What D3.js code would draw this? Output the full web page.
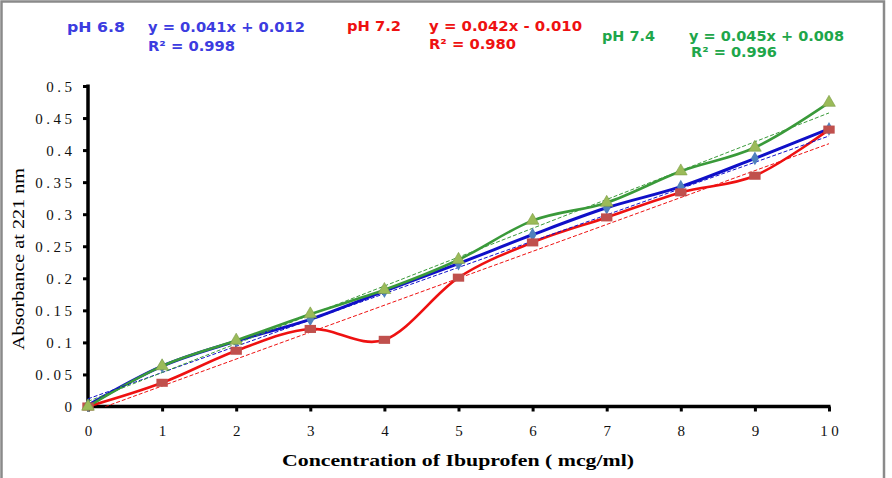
<!DOCTYPE html>
<html><head><meta charset="utf-8">
<script src="https://cdn.jsdelivr.net/npm/d3@7"></script>
<style>body{margin:0;background:#fff}svg{display:block}</style>
</head><body>
<script>
const concentrations = [0,1,2,3,4,5,6,7,8,9,10];
const pH68 = [0.002,0.063,0.102,0.136,0.180,0.223,0.268,0.310,0.343,0.387,0.433];
const pH72 = [0.000,0.037,0.087,0.121,0.104,0.201,0.256,0.295,0.334,0.360,0.432];
const pH74 = [0.000,0.063,0.103,0.144,0.182,0.229,0.290,0.318,0.367,0.404,0.474];
const seriesNames = ["pH 6.8","pH 7.2","pH 7.4"];
const slopes = [0.041,0.042,0.045];
const intercepts = [0.012,-0.010,0.008];
const equations = ["y = 0.041x + 0.012","y = 0.042x - 0.010","y = 0.045x + 0.008"];
const rSquared = ["R² = 0.998","R² = 0.980","R² = 0.996"];
const yTicks = [0,0.05,0.1,0.15,0.2,0.25,0.3,0.35,0.4,0.45,0.5];
const xTicks = [0,1,2,3,4,5,6,7,8,9,10];

const W=892,H=478;
const svg=d3.select("body").append("svg").attr("width",W).attr("height",H);
svg.append("rect").attr("x",1.5).attr("y",1.5).attr("width",882.5).attr("height",490)
  .attr("fill","none").attr("stroke","#8a8a8a").attr("stroke-width",2.5);

const x=d3.scaleLinear().domain([0,10]).range([88,829]);
const y=d3.scaleLinear().domain([0,0.5]).range([406.5,86]);

svg.append("defs").append("clipPath").attr("id","plot").append("rect")
  .attr("x",80).attr("y",80).attr("width",760).attr("height",406.5-80);

const lineCol=["#1010c8","#ee1111","#3a9a3a"];
const markFill=["#4f81bd","#c0504d","#9bbb59"];
const textCol=["#3c3ce0","#ee1111","#1ea64a"];
const data=[pH68,pH72,pH74];

// axes
const yAxis=d3.axisLeft(y).tickValues(yTicks).tickSize(5).tickPadding(11).tickFormat(d=>d3.format("")(+d.toFixed(2)));
const gy=svg.append("g").attr("transform","translate(88,0)").call(yAxis);
gy.select(".domain").attr("stroke","#000").attr("stroke-width",3.5).attr("d","M0,84.5V408");
gy.selectAll(".tick line").attr("stroke","#000").attr("stroke-width",3);
gy.selectAll(".tick text").attr("font-family","'Liberation Serif','Times New Roman',serif")
  .attr("font-size",15).attr("letter-spacing","3.5px").attr("fill","#111").attr("dy","0.35em").attr("dx","3.5px");

const xAxis=d3.axisBottom(x).tickValues(xTicks).tickSize(5).tickPadding(14).tickFormat(d3.format("d"));
const gx=svg.append("g").attr("transform","translate(0,406.5)").call(xAxis);
gx.select(".domain").attr("stroke","#000").attr("stroke-width",3.5).attr("d","M86.5,0H830.5");
gx.selectAll(".tick line").attr("stroke","#000").attr("stroke-width",3);
gx.selectAll(".tick text").attr("font-family","'Liberation Serif','Times New Roman',serif")
  .attr("font-size",15).attr("letter-spacing","3.5px").attr("fill","#111").attr("dx","1.75px");

// axis titles
svg.append("text").attr("x",458).attr("y",466).attr("text-anchor","middle")
  .attr("font-family","'Liberation Serif','Times New Roman',serif").attr("font-weight","bold")
  .attr("font-size",17).attr("textLength",352).attr("lengthAdjust","spacingAndGlyphs")
  .text("Concentration of Ibuprofen ( mcg/ml)");
svg.append("text").attr("transform","translate(24,259) rotate(-90)").attr("text-anchor","middle")
  .attr("font-family","'Liberation Serif','Times New Roman',serif")
  .attr("font-size",17).attr("textLength",182).attr("lengthAdjust","spacingAndGlyphs")
  .text("Absorbance at 221 nm");

const plot=svg.append("g").attr("clip-path","url(#plot)");
const line=d3.line().x((d,i)=>x(concentrations[i])).y(d=>y(d)).curve(d3.curveCatmullRom.alpha(0));

// series lines
data.forEach((s,k)=>{
  plot.append("path").datum(s).attr("d",line).attr("fill","none")
    .attr("stroke",lineCol[k]).attr("stroke-width",k===0?3:2.6).attr("stroke-linejoin","round");
});
// trendlines
data.forEach((s,k)=>{
  const x0=d3.min(concentrations), x1=d3.max(concentrations);
  plot.append("line").attr("x1",x(x0)).attr("y1",y(slopes[k]*x0+intercepts[k]))
    .attr("x2",x(x1)).attr("y2",y(slopes[k]*x1+intercepts[k]))
    .attr("stroke",lineCol[k]).attr("stroke-width",1).attr("stroke-dasharray","4,2");
});
// markers
const sym=[d3.symbolDiamond,d3.symbolSquare,d3.symbolTriangle];
const symSize=[55,90,70];
data.forEach((s,k)=>{
  svg.append("g").selectAll("path").data(s).join("path")
    .attr("transform",(d,i)=>`translate(${x(concentrations[i])},${y(d)})`+(k===1?" scale(1.2,0.85)":""))
    .attr("d",d3.symbol().type(sym[k]).size(symSize[k]))
    .attr("fill",markFill[k]).attr("stroke",k===2?"#7a9a44":"none").attr("stroke-width",0.6);
});

// equation annotations
const ann=[
  {nx:67,ex:148,by:32,ry:51,ew:157,rw:87,nw:58},
  {nx:347,ex:429,by:31,ry:49,ew:153,rw:87,nw:54},
  {nx:602,ex:689,by:41,ry:57,ew:155,rw:86,nw:53}
];
ann.forEach((a,k)=>{
  const t=(tx,ty,str,w)=>svg.append("text").attr("x",tx).attr("y",ty)
    .attr("font-family","'DejaVu Sans',Verdana,sans-serif").attr("font-weight","bold")
    .attr("font-size",14).attr("fill",textCol[k]).attr("textLength",w).attr("lengthAdjust","spacingAndGlyphs").text(str);
  t(a.nx,a.by,k===0?"pH  6.8":seriesNames[k],a.nw);
  t(a.ex,a.by,equations[k],a.ew);
  t(k===2?a.ex+2:a.ex,a.ry,rSquared[k],a.rw);
});
</script>
</body></html>
